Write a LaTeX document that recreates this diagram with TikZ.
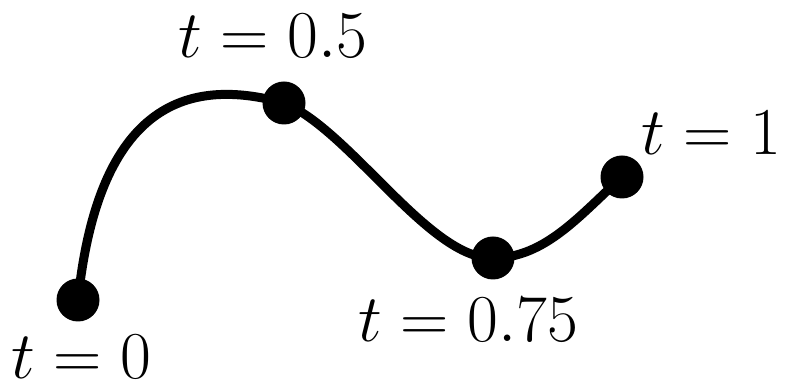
\RequirePackage{fix-cm}
\documentclass[tikz,border=0pt]{standalone}
\begin{document}
\begin{tikzpicture}[x=1pt,y=1pt,
  curve/.style={line width=9pt,line cap=round,line join=round},
  dot/.style={circle,fill=black,inner sep=0pt,minimum size=43pt},
  lbl/.style={font=\fontsize{67}{72}\selectfont,inner sep=0pt}]
\useasboundingbox (0,0) rectangle (785,390);
\coordinate (p0) at (78,90);
\coordinate (p1) at (284,287);
\coordinate (p2) at (493,132);
\coordinate (p3) at (622,213);
\draw[curve] (p0) .. controls (100,300) and (200,310) .. (p1)
  .. controls (350,260) and (430,130) .. (p2)
  .. controls (545,132) and (580,175) .. (p3);
\node[dot] (d0) at (p0) {};
\node[dot] (d1) at (p1) {};
\node[dot] (d2) at (p2) {};
\node[dot] (d3) at (p3) {};
\node[lbl] (l0) at (81,33) {$t=0$};
\node[lbl] (l1) at (273,354) {$t=0.5$};
\node[lbl] (l2) at (468,70) {$t=0.75$};
\node[lbl] (l3) at (711,257) {$t=1$};
\end{tikzpicture}
\end{document}
